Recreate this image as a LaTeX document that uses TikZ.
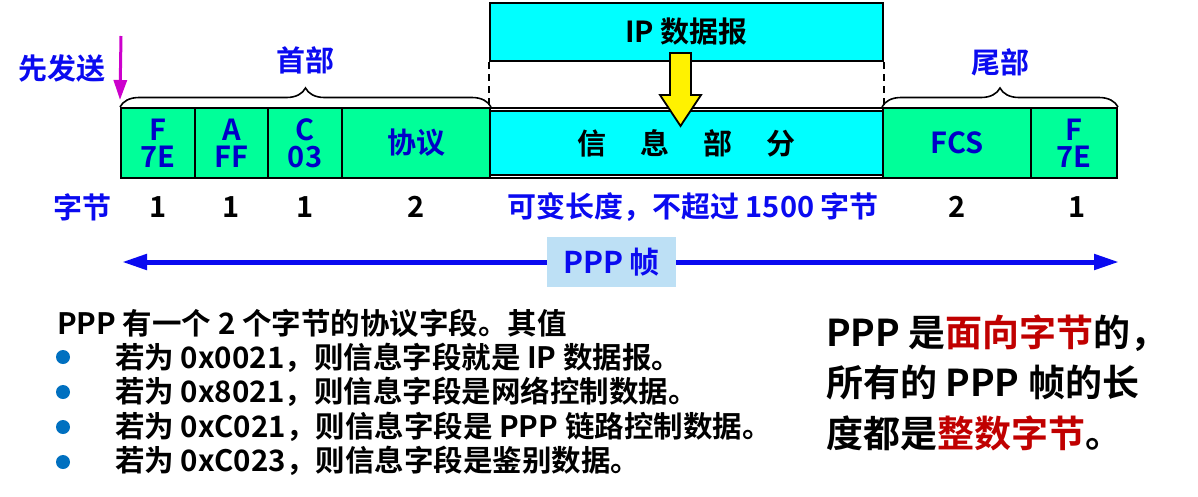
\documentclass[tikz,border=0pt]{standalone}
\usepackage{fontspec}
\setmainfont{Noto Sans CJK SC}[BoldFont={Noto Sans CJK SC Bold}]
\usetikzlibrary{arrows.meta,decorations.pathreplacing}
\definecolor{pgreen}{RGB}{0,255,153}
\definecolor{pcyan}{RGB}{0,255,255}
\definecolor{boxblue}{RGB}{0,0,200}
\definecolor{lblue}{RGB}{10,10,240}
\definecolor{pmag}{RGB}{204,0,204}
\definecolor{plight}{RGB}{189,224,245}
\definecolor{pbullet}{RGB}{0,112,192}
\definecolor{pred}{RGB}{192,0,0}
\tikzset{
  cell/.style={draw=black, line width=2pt, inner sep=0pt, align=center, font=\bfseries\fontsize{29}{27}\selectfont, text=boxblue},
  greencell/.style={cell, fill=pgreen},
  cyancell/.style={cell, fill=pcyan, text=black, font=\bfseries\fontsize{29}{30}\selectfont},
  lbl/.style={inner sep=0pt, font=\bfseries\fontsize{29}{30}\selectfont, text=lblue},
  num/.style={inner sep=0pt, font=\bfseries\fontsize{29}{30}\selectfont, text=black},
  bodytext/.style={inner sep=0pt, anchor=west, font=\bfseries\fontsize{29.5}{30}\selectfont, text=black},
  bigtext/.style={inner sep=0pt, anchor=west, font=\bfseries\fontsize{37}{38}\selectfont, text=black},
  bulletdot/.style={circle, fill=pbullet, inner sep=0pt, minimum size=14pt},
  bracestyle/.style={draw=black, line width=1.6pt, decorate, decoration={brace, amplitude=19pt}},
  guide/.style={line width=2pt, dash pattern=on 7pt off 5pt},
}
\begin{document}
\begin{tikzpicture}[x=1pt, y=-1pt]
\useasboundingbox (0,0) rectangle (1198,496);
% IP datagram
\node[cyancell, minimum width=393pt, minimum height=58pt] (ip) at (686.5,32) {IP 数据报};
% frame cells
\node[greencell, minimum width=74pt, minimum height=70pt] (f1) at (158,143) {F\\7E};
\node[greencell, minimum width=73pt, minimum height=70pt] (a) at (231.5,143) {A\\FF};
\node[greencell, minimum width=74pt, minimum height=70pt] (c) at (305,143) {C\\03};
\node[greencell, minimum width=148pt, minimum height=70pt] (proto) at (416,143) {协议};
\node[cell, fill=white, minimum width=393pt, minimum height=70pt] (infoout) at (686.5,143) {};
\node[cyancell, minimum width=393pt, minimum height=64pt] (info) at (686.5,143) {信\hspace{34pt}息\hspace{34pt}部\hspace{34pt}分};
\node[greencell, minimum width=148pt, minimum height=70pt] (fcs) at (957,143) {FCS};
\node[greencell, minimum width=86pt, minimum height=70pt] (f2) at (1074,143) {F\\7E};
% dashed guides
\draw[guide] (ip.south west) -- (infoout.north west);
\draw[guide] (ip.south east) -- (infoout.north east);
% yellow arrow
\draw[fill=yellow, line width=1.8pt, line join=miter] (670,53) -- (691,53) -- (691,95) -- (701,95) -- (680.5,126) -- (660,95) -- (670,95) -- cycle;
% braces
\draw[bracestyle] (f1.north west) -- (proto.north east) node[midway, above=32pt, lbl] (head) {首部};
\draw[bracestyle] (fcs.north west) -- (f2.north east) node[midway, above=30pt, lbl] (tail) {尾部};
% first sent
\node[lbl] (first) at (62,68) {先发送};
\coordinate (mtop) at (121,36);
\draw[pmag, line width=3pt, -{Triangle[length=20pt,width=13pt]}] (mtop) -- (f1.north west |- 0,100);
% byte counts
\node[lbl] (bytes) at (82,207) {字节};
\node[num] (n1) at (f1 |- 0,207) {1};
\node[num] (n2) at (a |- 0,207) {1};
\node[num] (n3) at (c |- 0,207) {1};
\node[num] (n4) at (proto |- 0,207) {2};
\node[lbl] (n5) at (693,207) {可变长度，不超过 1500 字节};
\node[num] (n6) at (fcs |- 0,207) {2};
\node[num] (n7) at (1077,207) {1};
% PPP frame arrow
\coordinate (pl) at (122,262);
\coordinate (pr) at (1119,262);
\draw[lblue, line width=5pt, {Triangle[length=25pt,width=15pt]}-{Triangle[length=25pt,width=15pt]}] (pl) -- (pr);
\node[fill=plight, minimum width=129pt, minimum height=50pt, inner sep=0pt, font=\bfseries\fontsize{30}{30}\selectfont, text=lblue] (frame) at (611.5,262) {PPP 帧};
% text block
\node[bodytext] (t0) at (57,323) {PPP 有一个 2 个字节的协议字段。其值};
\node[bulletdot] (b1) at (63,357) {};
\node[bulletdot] (b2) at (63,392) {};
\node[bulletdot] (b3) at (63,427) {};
\node[bulletdot] (b4) at (63,462) {};
\node[bodytext] (t1) at (115,358) {若为 0x0021，则信息字段就是 IP 数据报。};
\node[bodytext] (t2) at (115,392) {若为 0x8021，则信息字段是网络控制数据。};
\node[bodytext] (t3) at (115,427) {若为 0xC021，则信息字段是 PPP 链路控制数据。};
\node[bodytext] (t4) at (115,461) {若为 0xC023，则信息字段是鉴别数据。};
% right note
\node[bigtext] (r1) at (826,333) {PPP 是\textcolor{pred}{面向字节}的，};
\node[bigtext] (r2) at (826,383) {所有的 PPP 帧的长};
\node[bigtext] (r3) at (826,433) {度都是\textcolor{pred}{整数字节}。};
\end{tikzpicture}
\end{document}
